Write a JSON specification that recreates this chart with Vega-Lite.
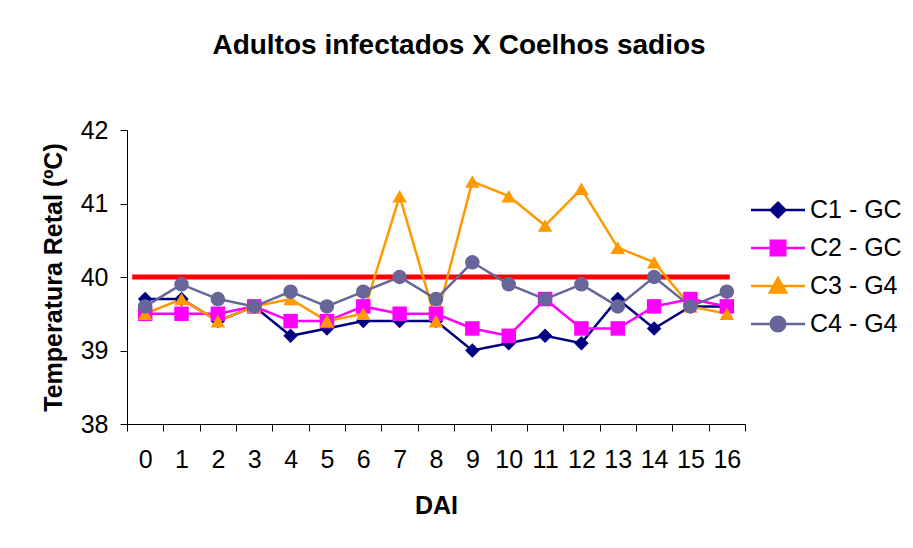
{
  "$schema": "https://vega.github.io/schema/vega-lite/v6.json",
  "width": 618,
  "height": 294,
  "autosize": {"type": "none"},
  "padding": {"left": 127, "top": 130, "right": 168, "bottom": 124},
  "background": "white",
  "config": {"view": {"stroke": null}, "font": "Liberation Sans"},
  "title": {"text": "Adultos infectados X Coelhos sadios", "fontSize": 28, "fontWeight": "bold", "color": "black", "anchor": "middle", "frame": "group", "dx": 23, "offset": 58},
  "data": {"values": [
    {"DAI": 0, "series": "C1 - GC", "temp": 39.7},
    {"DAI": 1, "series": "C1 - GC", "temp": 39.7},
    {"DAI": 2, "series": "C1 - GC", "temp": 39.4},
    {"DAI": 3, "series": "C1 - GC", "temp": 39.6},
    {"DAI": 4, "series": "C1 - GC", "temp": 39.2},
    {"DAI": 5, "series": "C1 - GC", "temp": 39.3},
    {"DAI": 6, "series": "C1 - GC", "temp": 39.4},
    {"DAI": 7, "series": "C1 - GC", "temp": 39.4},
    {"DAI": 8, "series": "C1 - GC", "temp": 39.4},
    {"DAI": 9, "series": "C1 - GC", "temp": 39.0},
    {"DAI": 10, "series": "C1 - GC", "temp": 39.1},
    {"DAI": 11, "series": "C1 - GC", "temp": 39.2},
    {"DAI": 12, "series": "C1 - GC", "temp": 39.1},
    {"DAI": 13, "series": "C1 - GC", "temp": 39.7},
    {"DAI": 14, "series": "C1 - GC", "temp": 39.3},
    {"DAI": 15, "series": "C1 - GC", "temp": 39.6},
    {"DAI": 16, "series": "C1 - GC", "temp": 39.6},
    {"DAI": 0, "series": "C2 - GC", "temp": 39.5},
    {"DAI": 1, "series": "C2 - GC", "temp": 39.5},
    {"DAI": 2, "series": "C2 - GC", "temp": 39.5},
    {"DAI": 3, "series": "C2 - GC", "temp": 39.6},
    {"DAI": 4, "series": "C2 - GC", "temp": 39.4},
    {"DAI": 5, "series": "C2 - GC", "temp": 39.4},
    {"DAI": 6, "series": "C2 - GC", "temp": 39.6},
    {"DAI": 7, "series": "C2 - GC", "temp": 39.5},
    {"DAI": 8, "series": "C2 - GC", "temp": 39.5},
    {"DAI": 9, "series": "C2 - GC", "temp": 39.3},
    {"DAI": 10, "series": "C2 - GC", "temp": 39.2},
    {"DAI": 11, "series": "C2 - GC", "temp": 39.7},
    {"DAI": 12, "series": "C2 - GC", "temp": 39.3},
    {"DAI": 13, "series": "C2 - GC", "temp": 39.3},
    {"DAI": 14, "series": "C2 - GC", "temp": 39.6},
    {"DAI": 15, "series": "C2 - GC", "temp": 39.7},
    {"DAI": 16, "series": "C2 - GC", "temp": 39.6},
    {"DAI": 0, "series": "C3 - G4", "temp": 39.5},
    {"DAI": 1, "series": "C3 - G4", "temp": 39.7},
    {"DAI": 2, "series": "C3 - G4", "temp": 39.4},
    {"DAI": 3, "series": "C3 - G4", "temp": 39.6},
    {"DAI": 4, "series": "C3 - G4", "temp": 39.7},
    {"DAI": 5, "series": "C3 - G4", "temp": 39.4},
    {"DAI": 6, "series": "C3 - G4", "temp": 39.5},
    {"DAI": 7, "series": "C3 - G4", "temp": 41.1},
    {"DAI": 8, "series": "C3 - G4", "temp": 39.4},
    {"DAI": 9, "series": "C3 - G4", "temp": 41.3},
    {"DAI": 10, "series": "C3 - G4", "temp": 41.1},
    {"DAI": 11, "series": "C3 - G4", "temp": 40.7},
    {"DAI": 12, "series": "C3 - G4", "temp": 41.2},
    {"DAI": 13, "series": "C3 - G4", "temp": 40.4},
    {"DAI": 14, "series": "C3 - G4", "temp": 40.2},
    {"DAI": 15, "series": "C3 - G4", "temp": 39.6},
    {"DAI": 16, "series": "C3 - G4", "temp": 39.5},
    {"DAI": 0, "series": "C4 - G4", "temp": 39.6},
    {"DAI": 1, "series": "C4 - G4", "temp": 39.9},
    {"DAI": 2, "series": "C4 - G4", "temp": 39.7},
    {"DAI": 3, "series": "C4 - G4", "temp": 39.6},
    {"DAI": 4, "series": "C4 - G4", "temp": 39.8},
    {"DAI": 5, "series": "C4 - G4", "temp": 39.6},
    {"DAI": 6, "series": "C4 - G4", "temp": 39.8},
    {"DAI": 7, "series": "C4 - G4", "temp": 40.0},
    {"DAI": 8, "series": "C4 - G4", "temp": 39.7},
    {"DAI": 9, "series": "C4 - G4", "temp": 40.2},
    {"DAI": 10, "series": "C4 - G4", "temp": 39.9},
    {"DAI": 11, "series": "C4 - G4", "temp": 39.7},
    {"DAI": 12, "series": "C4 - G4", "temp": 39.9},
    {"DAI": 13, "series": "C4 - G4", "temp": 39.6},
    {"DAI": 14, "series": "C4 - G4", "temp": 40.0},
    {"DAI": 15, "series": "C4 - G4", "temp": 39.6},
    {"DAI": 16, "series": "C4 - G4", "temp": 39.8}
  ]},
  "encoding": {
    "x": {
      "field": "DAI", "type": "ordinal",
      "scale": {"paddingInner": 0, "paddingOuter": 0},
      "axis": {"title": "DAI", "titleFontSize": 25, "titleFontWeight": "bold", "titleColor": "black", "labelFontSize": 25, "labelColor": "black", "labelAngle": 0, "labelPadding": 16, "tickSize": 7, "tickColor": "black", "domainColor": "black", "tickBand": "extent", "titlePadding": 21, "grid": false}
    },
    "y": {
      "field": "temp", "type": "quantitative",
      "scale": {"domain": [38, 42], "zero": false},
      "axis": {"title": "Temperatura Retal (ºC)", "values": [38, 39, 40, 41, 42], "titleFontSize": 25, "titleFontWeight": "bold", "titleColor": "black", "labelFontSize": 25, "labelColor": "black", "labelPadding": 12, "tickSize": 7, "tickColor": "black", "domainColor": "black", "titlePadding": 14, "grid": false}
    }
  },
  "layer": [
    {
      "data": {"values": [{"limit": 40}]},
      "mark": {"type": "rule", "color": "#FF0000", "strokeWidth": 5, "xOffset": -13, "x2Offset": 3},
      "encoding": {"y": {"field": "limit", "type": "quantitative"}, "x": {"datum": 0}, "x2": {"datum": 16}}
    },
    {
      "mark": {"type": "line", "strokeWidth": 2.5},
      "encoding": {
        "color": {"field": "series", "type": "nominal", "scale": {"domain": ["C1 - GC", "C2 - GC", "C3 - G4", "C4 - G4"], "range": ["#000080", "#FF00FF", "#FF9900", "#666699"]}, "legend": null}
      }
    },
    {
      "mark": {"type": "point", "filled": true, "size": 210, "opacity": 1},
      "encoding": {
        "color": {"field": "series", "type": "nominal", "scale": {"domain": ["C1 - GC", "C2 - GC", "C3 - G4", "C4 - G4"], "range": ["#000080", "#FF00FF", "#FF9900", "#666699"]}, "legend": null},
        "shape": {"field": "series", "type": "nominal", "scale": {"domain": ["C1 - GC", "C2 - GC", "C3 - G4", "C4 - G4"], "range": ["diamond", "square", "triangle-up", "circle"]}, "legend": null}
      }
    },
    {
      "mark": {"type": "point", "opacity": 0, "strokeWidth": 2.5},
      "encoding": {
        "fill": {"field": "series", "type": "nominal", "scale": {"domain": ["C1 - GC", "C2 - GC", "C3 - G4", "C4 - G4"], "range": ["#000080", "#FF00FF", "#FF9900", "#666699"]},
          "legend": {"orient": "none", "legendX": 636, "legendY": 65, "title": null, "symbolSize": 729, "symbolStrokeWidth": 2.5, "symbolOpacity": 1, "labelFontSize": 25, "labelColor": "black", "labelOffset": 17, "rowPadding": 10}},
        "stroke": {"field": "series", "type": "nominal", "scale": {"domain": ["C1 - GC", "C2 - GC", "C3 - G4", "C4 - G4"], "range": ["#000080", "#FF00FF", "#FF9900", "#666699"]},
          "legend": {"orient": "none", "legendX": 636, "legendY": 65, "title": null, "symbolSize": 729, "symbolStrokeWidth": 2.5, "symbolOpacity": 1, "labelFontSize": 25, "labelColor": "black", "labelOffset": 17, "rowPadding": 10}},
        "shape": {"field": "series", "type": "nominal", "scale": {"domain": ["C1 - GC", "C2 - GC", "C3 - G4", "C4 - G4"], "range": [
          "M-2,0H2M0,-0.54L0.54,0L0,0.54L-0.54,0Z",
          "M-2,0H2M-0.54,-0.54H0.54V0.54H-0.54Z",
          "M-2,0H2M0,-0.6L0.6,0.48L-0.6,0.48Z",
          "M-2,0H2M0.54,0L0.4988,0.2068L0.3818,0.3818L0.2068,0.4988L0,0.54L-0.2068,0.4988L-0.3818,0.3818L-0.4988,0.2068L-0.54,0L-0.4988,-0.2068L-0.3818,-0.3818L-0.2068,-0.4988L0,-0.54L0.2068,-0.4988L0.3818,-0.3818L0.4988,-0.2068Z"
        ]},
          "legend": {"orient": "none", "legendX": 636, "legendY": 65, "title": null, "symbolSize": 729, "symbolStrokeWidth": 2.5, "symbolOpacity": 1, "labelFontSize": 25, "labelColor": "black", "labelOffset": 17, "rowPadding": 10}}
      }
    }
  ],
  "resolve": {"scale": {"shape": "independent", "fill": "independent", "stroke": "independent"}}
}
